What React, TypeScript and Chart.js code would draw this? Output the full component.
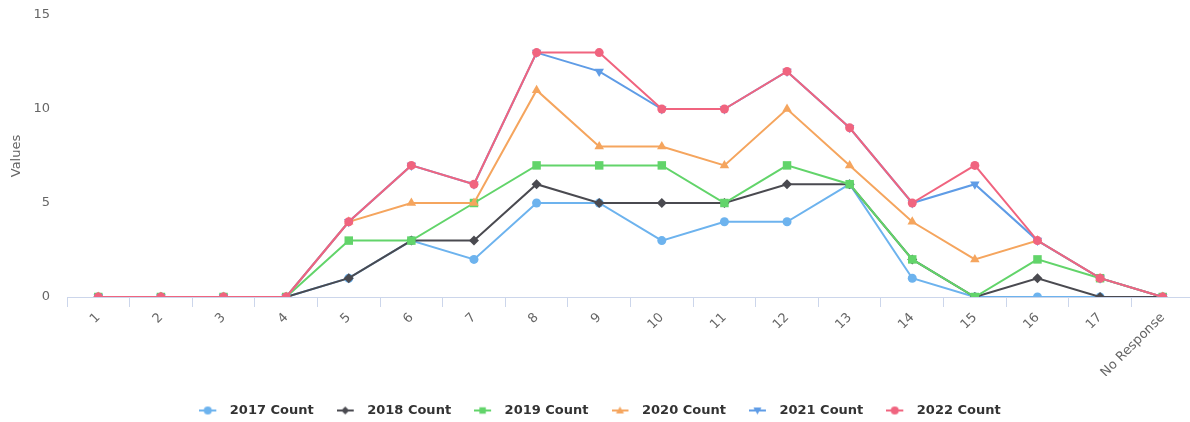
import React, { useEffect, useRef } from 'react';
import { Chart, registerables } from 'chart.js';

Chart.register(...registerables);

const categories = ['1', '2', '3', '4', '5', '6', '7', '8', '9', '10', '11', '12', '13', '14', '15', '16', '17', 'No Response'];

const count2017 = [0, 0, 0, 0, 1, 3, 2, 5, 5, 3, 4, 4, 6, 1, 0, 0, 0, 0];
const count2018 = [0, 0, 0, 0, 1, 3, 3, 6, 5, 5, 5, 6, 6, 2, 0, 1, 0, 0];
const count2019 = [0, 0, 0, 0, 3, 3, 5, 7, 7, 7, 5, 7, 6, 2, 0, 2, 1, 0];
const count2020 = [0, 0, 0, 0, 4, 5, 5, 11, 8, 8, 7, 10, 7, 4, 2, 3, 1, 0];
const count2021 = [0, 0, 0, 0, 4, 7, 6, 13, 12, 10, 10, 12, 9, 5, 6, 3, 1, 0];
const count2022 = [0, 0, 0, 0, 4, 7, 6, 13, 13, 10, 10, 12, 9, 5, 7, 3, 1, 0];

const seriesLabels = ['2017 Count', '2018 Count', '2019 Count', '2020 Count', '2021 Count', '2022 Count'];
const yTicks = [0, 5, 10, 15];

const seriesData = [count2017, count2018, count2019, count2020, count2021, count2022];
const colors = ['#6db3ee', '#4a4a50', '#62d46a', '#f5a55e', '#5f9ce6', '#f0647f'];
const styles = ['circle', 'rectRot', 'rect', 'triangle', 'triangle', 'circle'];
const rotations = [0, 0, 0, 0, 180, 0];
const radii = [4.5, 5, 6, 5.5, 5.5, 4.5];

const FONT = "'DejaVu Sans', 'Liberation Sans', sans-serif";

function drawMarker(ctx: CanvasRenderingContext2D, style: string, x: number, y: number, r: number, rot: number) {
  ctx.save();
  ctx.translate(x, y);
  ctx.rotate((rot * Math.PI) / 180);
  ctx.beginPath();
  if (style === 'circle') {
    ctx.arc(0, 0, r, 0, Math.PI * 2);
  } else if (style === 'rect') {
    const s = r * 0.8;
    ctx.rect(-s, -s, 2 * s, 2 * s);
  } else if (style === 'rectRot') {
    ctx.moveTo(0, -r);
    ctx.lineTo(r, 0);
    ctx.lineTo(0, r);
    ctx.lineTo(-r, 0);
    ctx.closePath();
  } else if (style === 'triangle') {
    ctx.moveTo(0, -r);
    ctx.lineTo(r, r * 0.75);
    ctx.lineTo(-r, r * 0.75);
    ctx.closePath();
  }
  ctx.fill();
  ctx.restore();
}

function makeIcon(color: string, style: string, rot: number) {
  const c = document.createElement('canvas');
  c.width = 24;
  c.height = 12;
  const ctx = c.getContext('2d')!;
  ctx.strokeStyle = color;
  ctx.lineWidth = 2;
  ctx.beginPath();
  ctx.moveTo(0, 6);
  ctx.lineTo(17, 6);
  ctx.stroke();
  ctx.fillStyle = color;
  drawMarker(ctx, style, 8.5, 6, 4, rot);
  return c;
}

const legendShift = {
  id: 'legendShift',
  afterLayout(chart: any) {
    if (chart.legend) {
      chart.legend.top += 5;
      chart.legend.bottom += 5;
    }
  },
};

export default function App() {
  const ref = useRef<HTMLCanvasElement | null>(null);

  useEffect(() => {
    if (!ref.current) return;
    const icons = colors.map((c, i) => makeIcon(c, styles[i], rotations[i]));
    const datasets = seriesLabels.map((label, i) => ({
      label,
      data: seriesData[i],
      borderColor: colors[i],
      backgroundColor: colors[i],
      pointBackgroundColor: colors[i],
      pointBorderColor: colors[i],
      pointBorderWidth: 0,
      pointStyle: styles[i] as any,
      pointRotation: rotations[i],
      pointRadius: radii[i],
      borderWidth: 2,
      tension: 0,
      order: seriesLabels.length - 1 - i,
    }));

    const chart = new Chart(ref.current, {
      type: 'line',
      data: { labels: categories, datasets },
      plugins: [legendShift],
      options: {
        animation: false,
        responsive: true,
        maintainAspectRatio: false,
        layout: { padding: { top: 15, left: 0, right: 0, bottom: 0 } },
        plugins: {
          tooltip: { enabled: false },
          legend: {
            position: 'bottom',
            labels: {
              usePointStyle: true,
              pointStyleWidth: 24,
              padding: 23,
              color: '#333',
              font: { family: FONT, size: 13, weight: 'bold' },
              generateLabels: (ch: any) =>
                ch.data.datasets.map((ds: any, i: number) => ({
                  text: ds.label,
                  fillStyle: colors[i],
                  strokeStyle: colors[i],
                  lineWidth: 0,
                  pointStyle: icons[i],
                  hidden: !ch.isDatasetVisible(i),
                  datasetIndex: i,
                  fontColor: '#333',
                })),
            },
          },
        },
        scales: {
          x: {
            type: 'category',
            offset: true,
            grid: {
              display: true,
              drawOnChartArea: false,
              drawTicks: true,
              tickLength: 10,
              color: '#ccd6eb',
              offset: true,
            },
            border: { display: true, color: '#ccd6eb', width: 1 },
            ticks: {
              autoSkip: false,
              maxRotation: 45,
              minRotation: 45,
              color: '#666',
              padding: 3,
              font: { family: FONT, size: 13 },
            },
            afterFit: (s: any) => {
              s.height = 79;
            },
          },
          y: {
            min: 0,
            max: 15,
            afterBuildTicks: (s: any) => {
              s.ticks = yTicks.map((v) => ({ value: v }));
            },
            grid: { display: false, drawTicks: true, tickLength: 17 },
            border: { display: false },
            ticks: {
              color: '#666',
              padding: 0,
              font: { family: FONT, size: 13 },
            },
            title: {
              display: true,
              text: 'Values',
              color: '#666',
              padding: { top: 9, bottom: 0 },
              font: { family: FONT, size: 13 },
            },
            afterFit: (s: any) => {
              s.width = 67;
            },
          },
        },
      },
    });
    return () => chart.destroy();
  }, []);

  return (
    <div style={{ position: 'absolute', left: 0, top: 0, width: 1190, height: 422, overflow: 'hidden', background: '#fff' }}>
      <div style={{ position: 'relative', width: 1200, height: 422 }}>
        <canvas ref={ref} />
      </div>
    </div>
  );
}
